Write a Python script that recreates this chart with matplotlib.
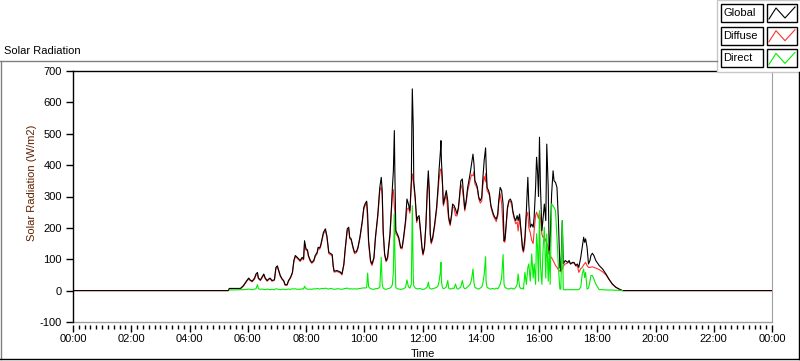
import numpy as np
import matplotlib.pyplot as plt
from matplotlib.lines import Line2D
from matplotlib.patches import Rectangle
from matplotlib.ticker import MultipleLocator, FuncFormatter

plt.rcParams['font.family'] = ['Liberation Sans', 'DejaVu Sans']
plt.rcParams['font.size'] = 8
plt.rcParams['axes.unicode_minus'] = False

# time of day (minutes after midnight) and irradiance (W/m2)
minutes = [
    0, 320, 322, 345, 351, 358, 362, 365, 369, 374,
    377, 380, 382, 386, 389, 393, 396, 400, 403, 406,
    410, 415, 418, 421, 424, 427, 431, 434, 437, 441,
    444, 448, 452, 455, 458, 462, 465, 468, 472, 475,
    477, 480, 483, 485, 489, 492, 496, 499, 503, 505,
    508, 510, 513, 516, 520, 523, 527, 530, 534, 536,
    538, 544, 551, 554, 558, 561, 565, 568, 570, 573,
    577, 580, 584, 587, 591, 596, 599, 602, 605, 607,
    609, 613, 616, 620, 623, 628, 632, 635, 637, 639,
    642, 645, 648, 653, 656, 658, 660, 662, 663, 665,
    668, 671, 675, 678, 681, 685, 688, 691, 694, 697,
    698, 699, 701, 702, 705, 708, 710, 713, 716, 719,
    721, 724, 727, 730, 732, 734, 736, 738, 741, 745,
    749, 752, 754, 757, 758, 759, 761, 763, 766, 769,
    772, 774, 777, 780, 782, 785, 788, 791, 794, 796,
    799, 802, 805, 807, 810, 813, 815, 818, 821, 824,
    826, 828, 831, 833, 836, 839, 842, 844, 847, 850,
    851, 853, 856, 858, 861, 864, 866, 869, 872, 875,
    877, 880, 883, 886, 888, 890, 893, 895, 898, 901,
    904, 906, 909, 912, 915, 917, 920, 923, 926, 928,
    931, 934, 937, 939, 942, 945, 948, 950, 953, 955,
    957, 959, 961, 963, 966, 968, 971, 974, 976, 979,
    981, 983, 986, 989, 991, 994, 997, 1000, 1003, 1005,
    1008, 1010, 1014, 1019, 1022, 1025, 1029, 1032, 1036, 1039,
    1042, 1046, 1049, 1052, 1054, 1056, 1059, 1062, 1065, 1067,
    1070, 1073, 1077, 1084, 1091, 1098, 1104, 1111, 1118, 1125,
    1132, 1440,
]

global_rad = [
    0, 0, 7, 7, 16, 32, 40, 34, 30, 40,
    53, 58, 40, 34, 42, 53, 40, 32, 37, 40,
    32, 35, 74, 79, 64, 48, 37, 32, 19, 19,
    32, 42, 58, 96, 112, 106, 101, 96, 106, 101,
    159, 133, 130, 112, 96, 90, 96, 112, 122, 138,
    136, 143, 165, 186, 197, 175, 122, 119, 115, 80,
    62, 64, 59, 53, 85, 138, 197, 202, 170, 165,
    138, 122, 125, 138, 170, 223, 265, 278, 285, 244,
    159, 96, 85, 106, 170, 244, 329, 361, 319, 191,
    117, 96, 106, 181, 265, 329, 382, 510, 382, 191,
    181, 170, 138, 138, 170, 223, 292, 276, 255, 350,
    520, 643, 520, 350, 297, 223, 234, 239, 191, 138,
    117, 138, 212, 329, 382, 319, 181, 154, 170, 212,
    265, 329, 382, 446, 478, 414, 350, 276, 297, 319,
    287, 234, 212, 244, 276, 271, 260, 244, 265, 297,
    350, 356, 297, 260, 287, 329, 345, 372, 404, 435,
    404, 350, 340, 329, 297, 287, 297, 350, 414, 455,
    404, 329, 319, 308, 271, 255, 244, 234, 228, 244,
    287, 329, 319, 276, 159, 165, 223, 265, 287, 292,
    281, 255, 234, 223, 239, 223, 244, 191, 138, 127,
    170, 255, 361, 276, 202, 212, 202, 234, 329, 425,
    380, 300, 489, 330, 191, 223, 276, 223, 467, 329,
    117, 159, 308, 382, 350, 345, 329, 223, 74, 64,
    223, 85, 96, 90, 96, 85, 90, 90, 80, 85,
    74, 106, 138, 170, 154, 165, 138, 85, 96, 112,
    119, 112, 96, 80, 69, 53, 37, 21, 11, 5,
    0, 0,
]

diffuse_rad = [
    0, 0, 6, 6, 14, 30, 37, 32, 28, 37,
    50, 50, 38, 32, 40, 50, 38, 30, 35, 38,
    30, 33, 70, 75, 61, 46, 35, 30, 17, 17,
    30, 40, 55, 92, 108, 103, 98, 93, 102, 98,
    150, 129, 126, 109, 93, 87, 93, 108, 118, 134,
    132, 139, 160, 181, 191, 170, 118, 115, 111, 76,
    59, 61, 56, 50, 81, 133, 190, 196, 166, 161,
    134, 118, 121, 134, 165, 217, 258, 272, 280, 210,
    147, 90, 80, 102, 164, 237, 319, 330, 300, 183,
    112, 92, 100, 173, 253, 309, 322, 266, 252, 181,
    175, 165, 134, 133, 164, 213, 258, 264, 247, 330,
    360, 372, 350, 335, 289, 217, 229, 232, 185, 133,
    113, 133, 204, 317, 355, 309, 175, 149, 164, 204,
    255, 314, 353, 386, 388, 384, 340, 270, 289, 307,
    255, 226, 207, 238, 268, 264, 239, 238, 260, 289,
    338, 324, 287, 254, 279, 317, 330, 352, 369, 366,
    379, 340, 332, 323, 292, 279, 285, 330, 364, 347,
    374, 319, 311, 302, 266, 248, 238, 229, 220, 238,
    277, 309, 279, 200, 155, 155, 215, 259, 282, 285,
    273, 249, 229, 213, 219, 190, 232, 185, 130, 122,
    150, 235, 250, 200, 185, 160, 150, 190, 240, 250,
    240, 230, 250, 230, 180, 170, 170, 160, 150, 140,
    117, 110, 105, 96, 90, 80, 74, 66, 62, 60,
    70, 78, 85, 88, 92, 85, 88, 88, 78, 80,
    58, 70, 74, 82, 86, 90, 80, 74, 74, 75,
    76, 74, 72, 67, 60, 50, 36, 21, 11, 5,
    0, 0,
]

direct_rad = [
    np.nan, np.nan, 2, 3, 3, 4, 5, 4, 3, 5,
    6, 19, 6, 4, 5, 4, 3, 5, 4, 3,
    4, 3, 6, 5, 4, 3, 4, 5, 3, 4,
    5, 4, 6, 5, 6, 4, 5, 4, 6, 5,
    14, 6, 5, 4, 5, 4, 6, 5, 7, 6,
    5, 6, 7, 6, 8, 6, 5, 7, 6, 5,
    4, 6, 5, 4, 6, 7, 8, 6, 5, 6,
    5, 6, 5, 6, 7, 8, 9, 8, 10, 56,
    12, 6, 5, 4, 6, 7, 10, 106, 20, 8,
    5, 4, 6, 8, 12, 20, 60, 244, 130, 10,
    6, 5, 4, 5, 6, 10, 34, 12, 8, 20,
    150, 271, 42, 15, 8, 6, 5, 7, 6, 5,
    4, 5, 8, 12, 27, 10, 6, 5, 6, 8,
    10, 15, 29, 60, 90, 30, 10, 6, 8, 12,
    32, 8, 5, 6, 8, 7, 21, 6, 5, 8,
    12, 32, 10, 6, 8, 12, 15, 20, 35, 69,
    25, 10, 8, 6, 5, 8, 12, 20, 50, 108,
    30, 10, 8, 6, 5, 7, 6, 5, 8, 6,
    10, 20, 40, 115, 20, 10, 8, 6, 5, 7,
    8, 6, 5, 10, 20, 53, 12, 6, 8, 5,
    58, 20, 74, 85, 30, 117, 40, 85, 20, 181,
    138, 30, 255, 80, 20, 120, 202, 40, 181, 30,
    127, 20, 276, 270, 265, 255, 170, 74, 5, 5,
    223, 3, 3, 3, 3, 3, 3, 3, 3, 3,
    3, 11, 53, 69, 42, 58, 5, 8, 30, 48,
    48, 37, 21, 3, 3, 2, 2, 2, 1, 1,
    0, np.nan,
]

series_names = ['Global', 'Diffuse', 'Direct']
series_colors = ['#000000', '#ff3030', '#00ee00']

W, H = 800, 361
fig = plt.figure(figsize=(W / 100, H / 100), dpi=100)


def fx(x):
    return x / W


def fy(y):
    return 1 - y / H


ax = fig.add_axes([fx(73), fy(322), (772 - 73) / W, (322 - 71) / H])
hours = np.array(minutes) / 60
ax.plot(hours, diffuse_rad, color=series_colors[1], lw=0.8, zorder=2)
ax.plot(hours, global_rad, color=series_colors[0], lw=0.8, zorder=3)
ax.plot(hours, direct_rad, color=series_colors[2], lw=0.8, zorder=4)

ax.set_xlim(0, 24)
ax.set_ylim(-100, 700)
ax.xaxis.set_major_locator(MultipleLocator(2))
ax.xaxis.set_minor_locator(MultipleLocator(0.2))
ax.xaxis.set_major_formatter(FuncFormatter(lambda v, p: f"{int(round(v)) % 24:02d}:00"))
ax.yaxis.set_major_locator(MultipleLocator(100))
ax.tick_params(axis='x', which='major', length=5, width=1, pad=2)
ax.tick_params(axis='x', which='minor', length=3, width=1)
ax.tick_params(axis='y', length=5, width=1, pad=3)

for side in ['left', 'top']:
    ax.spines[side].set_color('black')
    ax.spines[side].set_linewidth(1)
ax.spines['right'].set_color('#a0a0a0')
ax.spines['bottom'].set_position(('outward', 2))
ax.spines['bottom'].set_color('none')
ax.plot([0, 1], [0, 0], transform=ax.transAxes, color='#a0a0a0', lw=1, clip_on=False)

# labels
fig.text(fx(4), fy(51), 'Solar Radiation', ha='left', va='center')
fig.text(fx(32), fy(183), 'Solar Radiation (W/m2)', rotation=90, ha='center', va='center',
         color='#602000')
fig.text(fx(423), fy(354), 'Time', ha='center', va='center')

# outer frame
fig.add_artist(Line2D([fx(0), fx(717)], [fy(61), fy(61)], color='#808080', lw=1))
fig.add_artist(Line2D([fx(0.5), fx(0.5)], [fy(61), fy(359)], color='#808080', lw=1))
fig.add_artist(Line2D([fx(0), fx(800)], [fy(359), fy(359)], color='black', lw=1))
fig.add_artist(Line2D([fx(799), fx(799)], [fy(72), fy(359)], color='black', lw=1))

# legend panel
fig.add_artist(Rectangle((fx(717), fy(72)), fx(84), 72 / H, facecolor='white',
                         edgecolor='#c8c8c8', lw=1))
for i, (name, col) in enumerate(zip(series_names, series_colors)):
    top = 4 + i * 22.7
    fig.add_artist(Rectangle((fx(721), fy(top + 18)), fx(42), 18 / H, facecolor='white',
                             edgecolor='black', lw=1))
    fig.text(fx(723), fy(top + 9), name, ha='left', va='center')
    fig.add_artist(Rectangle((fx(767), fy(top + 18)), fx(30), 18 / H, facecolor='white',
                             edgecolor='black', lw=1))
    zx = [769, 776, 785, 795]
    zy = [top + 15, top + 4, top + 14, top + 3]
    fig.add_artist(Line2D([fx(v) for v in zx], [fy(v) for v in zy], color=col, lw=0.8))

fig.savefig('out.png', dpi=100)
